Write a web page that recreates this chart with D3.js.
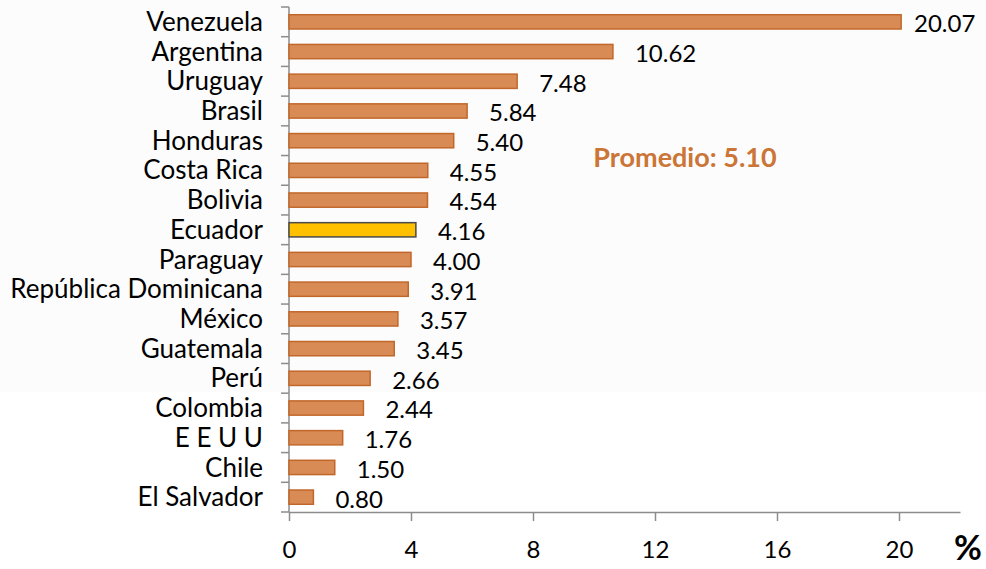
<!DOCTYPE html>
<html lang="es">
<head>
<meta charset="UTF-8">
<title>Tasas por país</title>
<style>
  body { margin: 0; background: #fff; }
  svg text { font-family: Lato, "Open Sans", sans-serif; }
</style>
</head>
<body>
<svg id="chart"></svg>
<script src="https://d3js.org/d3.v7.min.js"></script>
<script>
const countries = ['Venezuela', 'Argentina', 'Uruguay', 'Brasil', 'Honduras', 'Costa Rica',
  'Bolivia', 'Ecuador', 'Paraguay', 'República Dominicana', 'México', 'Guatemala',
  'Perú', 'Colombia', 'E E U U', 'Chile', 'El Salvador'];
const values = [20.07, 10.62, 7.48, 5.84, 5.40, 4.55, 4.54, 4.16, 4.00, 3.91, 3.57, 3.45,
  2.66, 2.44, 1.76, 1.50, 0.80];
const xTicks = [0, 4, 8, 12, 16, 20];
const highlight = 'Ecuador';
const averageText = 'Promedio: 5.10';

const width = 986, height = 569;
const margin = { top: 7, right: 26, bottom: 57, left: 289 };

const svg = d3.select('#chart').attr('width', width).attr('height', height);

// faint grey band behind the upper part of the picture
svg.append('rect')
  .attr('x', 0).attr('y', 0)
  .attr('width', width).attr('height', 392)
  .attr('fill', '#fcfcfc');

const x = d3.scaleLinear().domain([0, 22]).range([margin.left, width - margin.right]);
const y = d3.scaleBand().domain(countries).range([margin.top, height - margin.bottom]).paddingInner(0.52).paddingOuter(0.26);

const axisColor = '#8c8c8c';

// y axis: line + ticks at category boundaries
const yTop = margin.top, yBottom = height - margin.bottom;
svg.append('line')
  .attr('x1', x(0)).attr('x2', x(0))
  .attr('y1', yTop).attr('y2', yBottom)
  .attr('stroke', axisColor).attr('stroke-width', 1.5);
svg.selectAll('.ytick')
  .data(d3.range(countries.length + 1))
  .enter().append('line')
  .attr('x1', x(0) - 8).attr('x2', x(0))
  .attr('y1', i => yTop + i * (yBottom - yTop) / countries.length)
  .attr('y2', i => yTop + i * (yBottom - yTop) / countries.length)
  .attr('stroke', axisColor).attr('stroke-width', 1.5);

svg.selectAll('.ylabel')
  .data(countries)
  .enter().append('text')
  .attr('x', 263)
  .attr('y', d => y(d) + y.bandwidth() / 2)
  .attr('dy', '0.35em')
  .attr('text-anchor', 'end')
  .attr('font-size', 26)
  .attr('fill', '#000')
  .text(d => d);

// x axis
const xAxis = d3.axisBottom(x).tickValues(xTicks).tickSize(9).tickPadding(20).tickSizeOuter(0);
const gx = svg.append('g')
  .attr('transform', `translate(0, ${yBottom})`)
  .call(xAxis);
gx.select('.domain').attr('stroke', axisColor).attr('stroke-width', 1.5);
gx.selectAll('.tick line').attr('stroke', axisColor).attr('stroke-width', 1.5);
gx.selectAll('.tick text')
  .attr('font-size', 24)
  .attr('fill', '#000')
  .style('font-family', 'Lato, "Open Sans", sans-serif');

svg.append('text')
  .attr('x', 968).attr('y', 560)
  .attr('text-anchor', 'middle')
  .attr('font-size', 34)
  .attr('font-weight', 'bold')
  .attr('fill', '#000')
  .text('%');

// bars
svg.selectAll('.bar')
  .data(countries)
  .enter().append('rect')
  .attr('x', x(0))
  .attr('y', d => y(d))
  .attr('width', (d, i) => x(values[i]) - x(0))
  .attr('height', y.bandwidth())
  .attr('fill', d => d === highlight ? '#FFC000' : '#D98B56')
  .attr('stroke', d => d === highlight ? '#4a4a4a' : '#C2672A')
  .attr('stroke-width', 1.5);

// value labels
svg.selectAll('.vlabel')
  .data(countries)
  .enter().append('text')
  .attr('x', (d, i) => Math.min(x(values[i]) + 22, 914))
  .attr('y', d => y(d) + y.bandwidth() / 2 + 2)
  .attr('dy', '0.35em')
  .attr('font-size', 24)
  .attr('fill', '#000')
  .text((d, i) => values[i].toFixed(2));

svg.append('text')
  .attr('x', 685).attr('y', 158)
  .attr('dy', '0.35em')
  .attr('text-anchor', 'middle')
  .attr('font-size', 27)
  .attr('font-weight', 'bold')
  .attr('fill', '#CB7536')
  .text(averageText);
</script>
</body>
</html>
